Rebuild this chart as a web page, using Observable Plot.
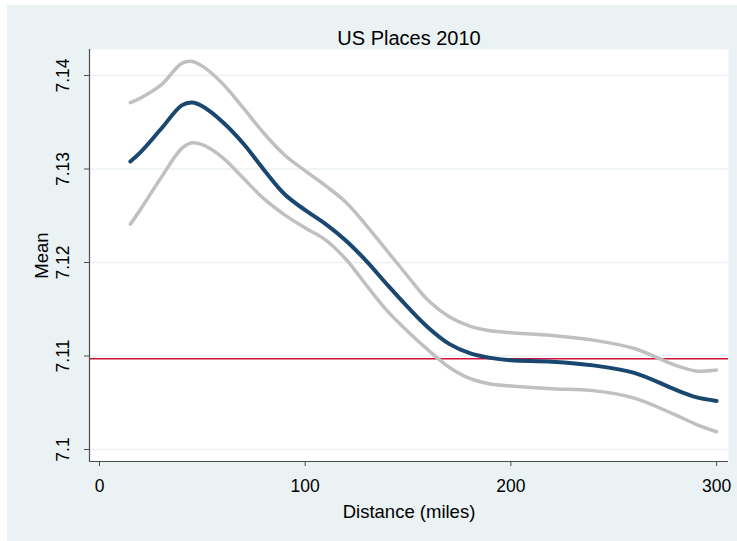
<!DOCTYPE html>
<html>
<head>
<meta charset="utf-8">
<script src="https://cdn.jsdelivr.net/npm/d3@7"></script>
<script src="https://cdn.jsdelivr.net/npm/@observablehq/plot@0.6"></script>
<style>
  html, body { margin: 0; padding: 0; background: #ffffff; overflow: hidden; }
  #chart { position: absolute; left: 7px; top: 5px; }
</style>
</head>
<body>
<div id="chart"></div>
<script>
// Local polynomial smooth of the mean, with its confidence band
const distance = [15, 20, 30, 40, 45, 50, 60, 70, 80, 90, 100, 110, 120, 130, 140, 150, 160, 170, 180, 190, 200, 220, 240, 260, 280, 290, 300];
const meanFit  = [7.1308, 7.1318, 7.1343, 7.1368, 7.1371, 7.1367, 7.1350, 7.1327, 7.1299, 7.1273, 7.1256, 7.1241, 7.1223, 7.1201, 7.1176, 7.1152, 7.1130, 7.1113, 7.1103, 7.1098, 7.10955, 7.1094, 7.1090, 7.1082, 7.1064, 7.1056, 7.1052];
const upperCI  = [7.1371, 7.1376, 7.1390, 7.1413, 7.1415, 7.1410, 7.1391, 7.1365, 7.1338, 7.1315, 7.1298, 7.1282, 7.1264, 7.1239, 7.1212, 7.1185, 7.1159, 7.1142, 7.1132, 7.1127, 7.1125, 7.1122, 7.1117, 7.1108, 7.1090, 7.1084, 7.1085];
const lowerCI  = [7.1241, 7.1257, 7.1291, 7.1322, 7.1328, 7.1326, 7.1312, 7.1290, 7.1268, 7.1251, 7.1237, 7.1224, 7.1203, 7.1175, 7.1148, 7.1126, 7.1106, 7.1088, 7.1076, 7.1070, 7.1068, 7.1065, 7.1063, 7.1055, 7.1037, 7.1027, 7.1019];
const overallMean = 7.1097;

const xTicks = [0, 100, 200, 300];
const yTicks = [7.10, 7.11, 7.12, 7.13, 7.14];
const yTickLabels = ["7.1", "7.11", "7.12", "7.13", "7.14"];

const titleText = "US Places 2010";
const xTitle = "Distance (miles)";
const yTitle = "Mean";

const rows = (ys) => distance.map((d, i) => ({d, v: ys[i]}));
const xDomain = [-4.86, 305.8];
const yDomain = [7.09872, 7.14278];

const font = "'Liberation Sans', Arial, Helvetica, sans-serif";
const axisColor = "#4d4d4d";

const chart = Plot.plot({
  width: 730,
  height: 536,
  marginLeft: 82,
  marginTop: 44,
  marginRight: 9,
  marginBottom: 80,
  style: {background: "#EAF2F3", fontFamily: font, color: "#000"},
  x: {domain: xDomain},
  y: {domain: yDomain},
  marks: [
    Plot.frame({fill: "white", stroke: null}),
    Plot.ruleY(yTicks, {stroke: "#EAF2F3", strokeWidth: 1.5}),
    Plot.ruleY([overallMean], {stroke: "#D0103A", strokeWidth: 1.5}),
    Plot.line(rows(upperCI), {x: "d", y: "v", stroke: "#C0C0C0", strokeWidth: 3.5, curve: "catmull-rom"}),
    Plot.line(rows(lowerCI), {x: "d", y: "v", stroke: "#C0C0C0", strokeWidth: 3.5, curve: "catmull-rom"}),
    Plot.line(rows(meanFit), {x: "d", y: "v", stroke: "#1A476F", strokeWidth: 4, curve: "catmull-rom"}),
    // axis lines
    Plot.ruleY([yDomain[0]], {stroke: axisColor, strokeWidth: 1.2}),
    Plot.ruleX([xDomain[0]], {stroke: axisColor, strokeWidth: 1.2}),
    Plot.axisX({ticks: xTicks, tickSize: 5, tickPadding: 13.5, fontSize: 17.5, label: null, stroke: axisColor}),
    Plot.axisY({ticks: yTicks, tickSize: 5, tickFormat: () => "", label: null, stroke: axisColor}),
    Plot.text(yTicks, {
      y: (d) => d, text: (d, i) => yTickLabels[i], frameAnchor: "left",
      rotate: -90, textAnchor: "middle", lineAnchor: "bottom", dx: -21, fontSize: 17.5, fill: "#000"
    }),
    Plot.text([titleText], {text: (d) => d, frameAnchor: "top", lineAnchor: "bottom", dy: -5, fontSize: 20, fill: "#000"}),
    Plot.text([xTitle], {text: (d) => d, frameAnchor: "bottom", lineAnchor: "bottom", dy: 56, fontSize: 18.5, fill: "#000"}),
    Plot.text([yTitle], {text: (d) => d, frameAnchor: "left", rotate: -90, textAnchor: "middle", lineAnchor: "bottom", dx: -42, fontSize: 18.5, fill: "#000"})
  ]
});

document.getElementById("chart").appendChild(chart);
</script>
</body>
</html>
